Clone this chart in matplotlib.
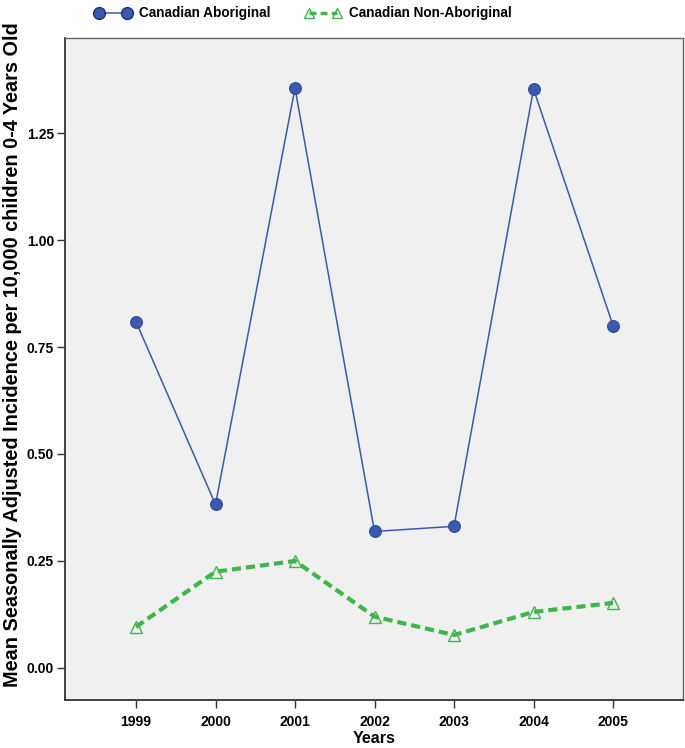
import matplotlib
matplotlib.use("Agg")
import matplotlib.pyplot as plt
from matplotlib.lines import Line2D

years = [1999, 2000, 2001, 2002, 2003, 2004, 2005]
aboriginal = [0.809, 0.382, 1.355, 0.319, 0.331, 1.353, 0.800]
non_aboriginal = [0.096, 0.225, 0.250, 0.120, 0.077, 0.131, 0.152]
yticks = [0.00, 0.25, 0.50, 0.75, 1.00, 1.25]
series_names = ["Canadian Aboriginal", "Canadian Non-Aboriginal"]

plt.rcParams['font.family'] = ['Liberation Sans', 'DejaVu Sans']

fig = plt.figure(figsize=(6.85, 7.48), dpi=100)
ax = fig.add_axes([65/685, 48/748, 618/685, 662/748])
ax.set_facecolor('#f0f0f0')

blue = '#3a59b2'
green = '#3cb84a'

ax.plot(years, aboriginal, color=blue, lw=1.1, marker='o', ms=8.5,
        mfc=blue, mec='#2f4a9a', mew=0.8, zorder=3)
ax.plot(years, non_aboriginal, color=green, lw=3.0, ls=(0, (2.2, 1.2)),
        marker='^', ms=8, mfc='none', mec=green, mew=1.0, zorder=3)

ax.set_xlim(1998.107, 2005.88)
ax.set_ylim(-0.0748, 1.472)
ax.set_xticks(years)
ax.set_xticklabels([str(y) for y in years])
ax.set_yticks(yticks)
ax.set_yticklabels([f"{v:.2f}" for v in yticks])
ax.tick_params(direction='out', length=6, width=1, color='#333333',
               labelsize=10, pad=2)
ax.tick_params(axis='x', pad=5)
for lab in ax.get_xticklabels() + ax.get_yticklabels():
    lab.set_fontweight('bold')

for side in ['left', 'bottom']:
    ax.spines[side].set_color('#333333')
    ax.spines[side].set_linewidth(1.3)
for side in ['top', 'right']:
    ax.spines[side].set_color('#666666')
    ax.spines[side].set_linewidth(1.0)

ax.set_xlabel("Years", fontsize=11.5, fontweight='bold', labelpad=1)
ax.set_ylabel("Mean Seasonally Adjusted Incidence per 10,000 children 0-4 Years Old",
              fontsize=14.3, fontweight='bold')
ax.yaxis.set_label_coords(-0.070, 0.521)

handles = [
    Line2D([], [], color=blue, lw=1.1, marker='o', ms=8.5, mfc=blue, mec='#1f3070'),
    Line2D([], [], color=green, lw=2.5, ls=(0, (2, 1.2)), marker='^', ms=7,
           mfc='none', mec=green),
]
leg = fig.legend(handles, series_names, loc='upper left', ncol=2,
                 bbox_to_anchor=(92/685, 0.995), frameon=False,
                 prop={'weight': 'bold', 'size': 9.8}, handlelength=2.7,
                 columnspacing=2.5, handletextpad=0.55, numpoints=2,
                 borderpad=0.2, borderaxespad=0)

fig.savefig("out.png", dpi=100, facecolor='white')
